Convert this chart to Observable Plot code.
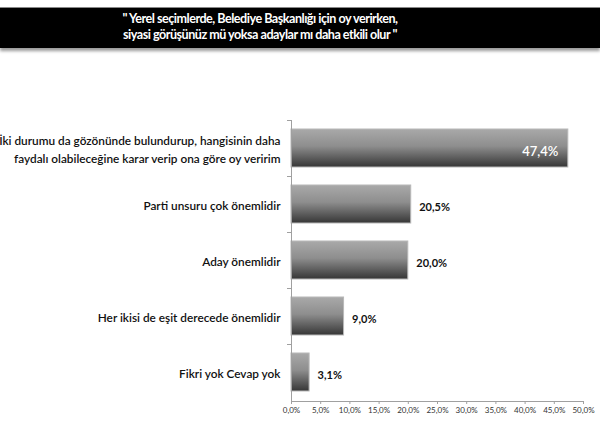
<!DOCTYPE html>
<html><head><meta charset="utf-8">
<script src="https://cdn.jsdelivr.net/npm/d3@7"></script>
<script src="https://cdn.jsdelivr.net/npm/@observablehq/plot@0.6"></script>
<style>
body{margin:0;background:#fff;width:600px;height:428px;overflow:hidden;font-family:Lato,"Open Sans",sans-serif;}
#head{height:55px;position:relative;}
#band{position:absolute;top:7px;left:0;width:600px;height:41px;background:#000;box-shadow:0 3px 3px #9a9a9a;border-top:1px solid #888;box-sizing:border-box;}
#title{position:absolute;left:0;width:520px;top:3px;text-align:center;color:#fff;font:bold 12.6px Lato,sans-serif;line-height:16px;letter-spacing:-0.5px;}
</style></head><body>
<div id="head"><div id="band"><div id="title">" Yerel seçimlerde, Belediye Başkanlığı için oy verirken,<br>siyasi görüşünüz mü yoksa adaylar mı daha etkili olur "</div></div></div>
<div id="chart"></div>
<script>
const categories = [
  "İki durumu da gözönünde bulundurup, hangisinin daha\nfaydalı olabileceğine karar verip ona göre oy veririm",
  "Parti unsuru çok önemlidir",
  "Aday önemlidir",
  "Her ikisi de eşit derecede önemlidir",
  "Fikri yok Cevap yok"
];
const values = [47.4, 20.5, 20.0, 9.0, 3.1];
const xTicks = [0, 5, 10, 15, 20, 25, 30, 35, 40, 45, 50];

const data = categories.map((c, i) => ({cat: c, v: values[i]}));
const fmt = d => d.toFixed(1).replace(".", ",") + "%";

const chart = Plot.plot({
  width: 600, height: 373,
  marginTop: 65, marginBottom: 27, marginLeft: 291, marginRight: 17,
  style: {fontFamily: "Lato, 'Open Sans', sans-serif", background: "#fff"},
  x: {domain: [0, 50], ticks: xTicks},
  y: {domain: categories, paddingInner: 0.32, paddingOuter: 0.16},
  marks: [
    Plot.barX(data, {y: "cat", x: "v", fill: "url(#barGrad)", stroke: "#b8b8b8", strokeWidth: 1}),
    Plot.ruleX([0], {stroke: "#a0a0a0"}),
    Plot.frame({anchor: "bottom", stroke: "#a0a0a0"}),
    Plot.axisX({ticks: xTicks, tickFormat: fmt, tickSize: 3, tickPadding: 3, stroke: "#a0a0a0", fill: "#333", fontSize: 8, label: null}),
    Plot.axisY({tickSize: 4, stroke: "#a0a0a0", dy: -28, text: null, label: null}),
    Plot.axisY({tickSize: 0, tickPadding: 11, fill: "#111", fontSize: 11.8, fontWeight: 600, label: null, lineHeight: 1.45, textAnchor: "end"}),
    Plot.text(data.filter(d => d.v > 40), {y: "cat", x: "v", text: d => fmt(d.v), textAnchor: "end", dx: -10, dy: 3, fill: "#fff", fontSize: 13, fontWeight: 600}),
    Plot.text(data.filter(d => d.v <= 40), {y: "cat", x: "v", text: d => fmt(d.v), textAnchor: "start", dx: 8, dy: 3, fill: "#111", fontSize: 11, fontWeight: "bold"})
  ]
});
const defs = d3.select(chart).insert("defs", ":first-child");
const g = defs.append("linearGradient").attr("id", "barGrad").attr("x1", 0).attr("y1", 0).attr("x2", 0).attr("y2", 1);
g.append("stop").attr("offset", "0%").attr("stop-color", "#a9a9a9");
g.append("stop").attr("offset", "45%").attr("stop-color", "#8e8e8e");
g.append("stop").attr("offset", "100%").attr("stop-color", "#363636");
document.getElementById("chart").appendChild(chart);
</script>
</body></html>
